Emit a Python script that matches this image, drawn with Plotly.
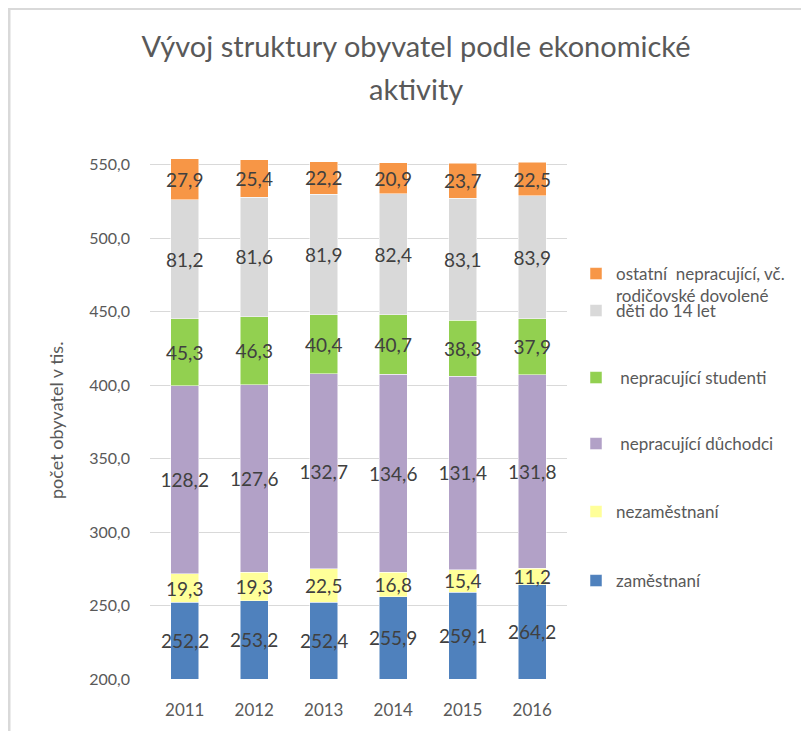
import plotly.graph_objects as go

years = ["2011", "2012", "2013", "2014", "2015", "2016"]
zamestnani = [252.2, 253.2, 252.4, 255.9, 259.1, 264.2]
nezamestnani = [19.3, 19.3, 22.5, 16.8, 15.4, 11.2]
duchodci = [128.2, 127.6, 132.7, 134.6, 131.4, 131.8]
studenti = [45.3, 46.3, 40.4, 40.7, 38.3, 37.9]
deti = [81.2, 81.6, 81.9, 82.4, 83.1, 83.9]
ostatni = [27.9, 25.4, 22.2, 20.9, 23.7, 22.5]

names = ["zaměstnaní", "nezaměstnaní", " nepracující důchodci", " nepracující studenti",
         "děti do 14 let", "ostatní  nepracující, vč.<br>rodičovské dovolené"]
series = [zamestnani, nezamestnani, duchodci, studenti, deti, ostatni]
colors = ["#4F81BD", "#FFFF99", "#B2A1C7", "#92D050", "#D9D9D9", "#F79646"]
tickvals = [200, 250, 300, 350, 400, 450, 500, 550]
y_range = [200, 560]
y_title = "počet obyvatel v tis."

# the page body has an 8px margin; the figure is sized to fit inside the window
OFF = 8
W, H = 809 - 2 * OFF, 739 - 2 * OFF
# plot area in page pixels: x 150..567, y 150..679
L, R, T, B = 150 - OFF, W - (567 - OFF), 150 - OFF, H - (679 - OFF)
pw, ph = W - L - R, H - T - B

def px2x(px):
    return (px - OFF - L) / pw

def px2y(py):
    return (H - B - (py - OFF)) / ph

FONT = "Lato"
LABEL_FONT = dict(family=FONT, size=19, color="#404040")
fig = go.Figure()
legend_names = ["legend", "legend2", "legend3", "legend4", "legend5", "legend6"]
for i, (name, vals, col, lg) in enumerate(zip(names, series, colors, legend_names)):
    fig.add_trace(go.Bar(
        x=years, y=vals, name=name, marker_color=col,
        marker_line_width=0.5, marker_line_color="white",
        texttemplate="%{y:.1f}" if i > 0 else None,
        textposition="inside" if i > 0 else "none",
        insidetextanchor="middle", textangle=0,
        textfont=LABEL_FONT,
        legend=lg, showlegend=True,
    ))

# labels of the bottom series sit in the middle of the visible part of the bar
annotations = []
for idx, v in enumerate(zamestnani):
    annotations.append(dict(x=idx, y=(y_range[0] + v) / 2, xref="x", yref="y",
                            text=f"{v:.1f}".replace(".", ","), showarrow=False,
                            font=LABEL_FONT))
annotations.append(dict(text="aktivity", xref="paper", yref="paper", x=px2x(416), y=px2y(88),
                        xanchor="center", yanchor="middle", showarrow=False,
                        font=dict(family=FONT, size=29, color="#595959")))
# y-axis title
annotations.append(dict(text=y_title, xref="paper", yref="paper", x=px2x(56), y=px2y(421),
                        xanchor="center", yanchor="middle", showarrow=False, textangle=-90,
                        font=dict(family=FONT, size=18, color="#595959")))

legend_centers = [581, 512, 444, 378, 311, 285]
layout_legends = {}
for lg, cy in zip(legend_names, legend_centers):
    layout_legends[lg] = dict(
        x=px2x(576), xanchor="left", y=px2y(cy), yanchor="middle",
        font=dict(family=FONT, size=17, color="#595959"),
        bgcolor="rgba(0,0,0,0)", valign="top", borderwidth=0,
    )

shapes = [
    dict(type="line", xref="paper", yref="paper", x0=px2x(OFF), x1=px2x(809), y0=px2y(OFF + 1),
         y1=px2y(OFF + 1), line=dict(color="#D9D9D9", width=2)),
    dict(type="line", xref="paper", yref="paper", x0=px2x(OFF + 1), x1=px2x(OFF + 1),
         y0=px2y(OFF), y1=px2y(739), line=dict(color="#D9D9D9", width=3)),
]

fig.update_layout(
    width=W, height=H,
    margin=dict(l=L, r=R, t=T, b=B, autoexpand=False),
    barmode="stack", bargap=0.6,
    separators=", ",
    showlegend=True,
    paper_bgcolor="white", plot_bgcolor="white",
    uniformtext=dict(mode="show", minsize=19),
    title=dict(text="Vývoj struktury obyvatel podle ekonomické", x=(416 - OFF) / W, xanchor="center",
               y=1 - (47 - OFF) / H, yanchor="middle",
               font=dict(family=FONT, size=29, color="#595959")),
    annotations=annotations,
    xaxis=dict(type="category", categoryorder="array", categoryarray=years,
               range=[-0.5, len(years) - 0.5], autorange=False,
               showgrid=False, showline=False, ticks="",
               ticklabelstandoff=19,
               tickfont=dict(family=FONT, size=17, color="#595959")),
    yaxis=dict(range=y_range, autorange=False, tickvals=tickvals, tickformat=".1f", showgrid=True,
               gridcolor="#D9D9D9", gridwidth=1, zeroline=False, showline=False, ticks="",
               ticklabelstandoff=19,
               tickfont=dict(family=FONT, size=16, color="#595959")),
    shapes=shapes,
    **layout_legends,
)

fig.write_html("out.html")
